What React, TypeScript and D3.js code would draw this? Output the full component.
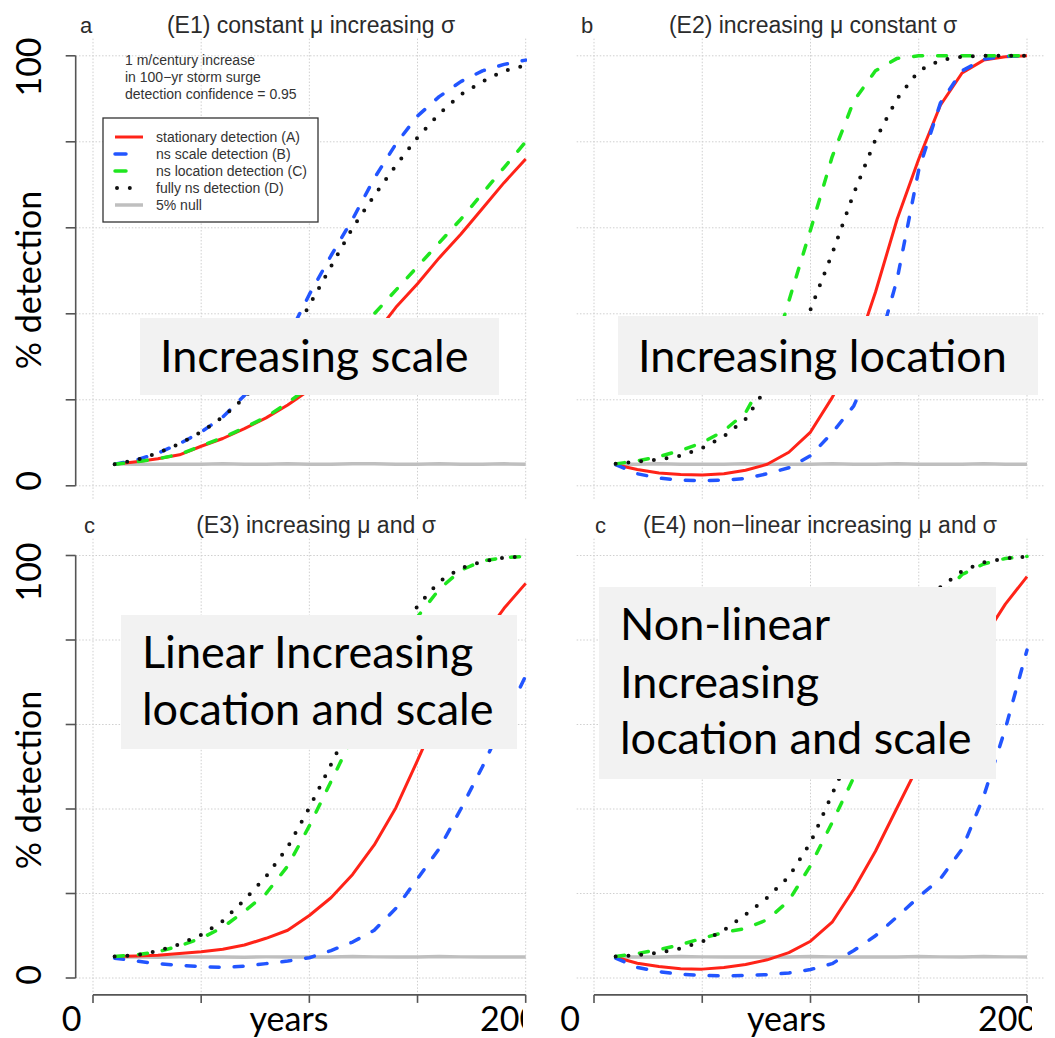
import React from "react";
import * as d3 from "d3";

// ---------------- data ----------------
const YEARS = [10, 20, 30, 40, 50, 60, 70, 80, 90, 100, 110, 120, 130, 140, 150, 160, 170, 180, 190, 200];

const E1_A = [5.0, 5.6, 6.3, 7.2, 9.2, 11.0, 13.3, 15.8, 18.8, 22.3, 26.3, 30.5, 35.0, 41.5, 47.0, 53.0, 58.5, 64.5, 70.5, 76.0];
const E1_B = [5.0, 6.0, 7.6, 9.8, 12.5, 16.0, 21.0, 27.0, 34.5, 44.5, 53.5, 62.0, 71.5, 79.5, 86.0, 90.5, 94.0, 96.5, 98.0, 99.0];
const E1_C = [5.0, 5.6, 6.3, 7.3, 9.3, 11.2, 13.5, 16.0, 19.3, 23.0, 27.5, 33.0, 40.0, 45.5, 51.0, 56.5, 62.0, 68.0, 74.0, 80.0];
const E1_D = [5.0, 6.0, 7.6, 9.8, 12.5, 16.0, 20.5, 26.0, 33.0, 42.0, 51.0, 60.0, 67.5, 74.5, 81.0, 86.5, 91.0, 94.0, 96.5, 97.8];
const E1_NULL = [5.1, 5.0, 5.0, 5.0, 5.0, 5.1, 5.0, 5.0, 5.1, 5.0, 5.0, 5.1, 5.1, 5.0, 5.0, 5.1, 5.0, 5.0, 5.1, 5.0];

const E2_A = [4.9, 3.8, 3.0, 2.6, 2.5, 2.8, 3.6, 5.0, 7.8, 12.5, 20.5, 30.0, 45.0, 62.0, 76.0, 88.5, 96.0, 99.0, 99.8, 100];
const E2_B = [4.9, 2.8, 1.8, 1.3, 1.2, 1.3, 1.7, 2.8, 4.2, 7.0, 12.3, 18.6, 30.0, 48.0, 73.5, 89.0, 96.5, 99.2, 99.9, 100];
const E2_C = [5.1, 5.8, 6.8, 8.2, 10.0, 12.8, 17.0, 26.0, 43.0, 59.5, 76.5, 89.5, 96.5, 99.4, 100, 100, 100, 100, 100, 100];
const E2_D = [5.1, 5.6, 6.1, 7.0, 8.8, 11.5, 15.5, 23.0, 30.5, 41.0, 54.0, 68.0, 80.5, 90.0, 96.5, 99.0, 99.8, 100, 100, 100];
const E2_NULL = [5.0, 5.0, 5.1, 5.0, 5.0, 5.0, 5.1, 5.0, 5.0, 5.0, 5.1, 5.0, 5.0, 5.1, 5.0, 5.0, 5.0, 5.1, 5.0, 5.0];

const E3_A = [5.1, 5.2, 5.4, 5.8, 6.2, 6.8, 7.8, 9.4, 11.3, 14.8, 19.0, 24.5, 31.5, 40.3, 51.5, 63.0, 72.5, 80.5, 87.5, 93.4];
const E3_B = [4.7, 4.0, 3.4, 3.0, 2.7, 2.5, 2.8, 3.4, 4.0, 4.8, 6.5, 8.5, 11.3, 16.5, 23.5, 30.6, 40.0, 50.0, 61.0, 71.5];
const E3_C = [5.1, 5.5, 6.2, 7.6, 9.4, 12.0, 15.8, 20.0, 26.5, 36.0, 46.5, 57.0, 67.5, 77.5, 85.5, 92.0, 96.5, 98.7, 99.5, 99.8];
const E3_D = [5.1, 5.4, 6.4, 8.0, 10.2, 13.5, 18.5, 24.0, 31.0, 40.3, 50.5, 61.0, 71.0, 80.0, 88.0, 93.8, 97.0, 98.6, 99.5, 99.8];
const E3_NULL = [5.0, 5.0, 4.9, 5.0, 5.0, 5.0, 4.9, 5.0, 5.0, 5.0, 5.0, 5.1, 5.0, 5.0, 5.0, 5.1, 5.0, 5.0, 5.0, 5.0];

const E4_A = [4.9, 3.5, 2.7, 2.2, 2.1, 2.5, 3.2, 4.3, 6.0, 8.7, 13.2, 21.0, 30.0, 40.3, 50.5, 61.0, 71.0, 80.5, 88.5, 95.0];
const E4_B = [4.7, 2.5, 1.5, 0.9, 0.6, 0.5, 0.6, 0.8, 1.2, 2.0, 3.4, 6.5, 10.0, 14.5, 19.2, 23.5, 30.5, 43.0, 59.0, 77.6];
const E4_C = [5.1, 5.8, 6.7, 7.9, 9.4, 10.8, 11.7, 13.8, 18.3, 26.6, 36.8, 47.5, 59.0, 70.5, 81.0, 90.0, 95.5, 98.0, 99.3, 99.8];
const E4_D = [5.1, 5.4, 6.0, 7.0, 8.6, 11.3, 15.0, 19.0, 24.0, 32.0, 43.5, 55.0, 66.5, 77.0, 86.0, 92.5, 96.3, 98.4, 99.3, 99.7];
const E4_NULL = [5.0, 5.0, 5.0, 5.1, 5.0, 5.0, 5.0, 5.0, 5.0, 5.1, 5.0, 5.0, 5.0, 5.0, 5.1, 5.0, 5.0, 5.1, 5.0, 5.0];

const SERIES_LABELS = [
  "stationary detection (A)",
  "ns scale detection (B)",
  "ns location detection (C)",
  "fully ns detection (D)",
  "5% null",
];
const LEGEND_NOTE = ["1  m/century increase", "in 100\u2212yr storm surge", "detection confidence = 0.95"];
const Y_TICKS = [0, 20, 40, 60, 80, 100];
const X_TICKS = [0, 50, 100, 150, 200];
const Y_TICK_LABELS = ["0", "100"];
const X_TICK_LABELS = ["0", "200"];
const Y_LABEL = "% detection";
const X_LABEL = "years";
const PANEL_LETTERS = ["a", "b", "c", "c"];
const PANEL_TITLES = [
  "(E1) constant \u03bc increasing \u03c3",
  "(E2) increasing \u03bc constant \u03c3",
  "(E3) increasing \u03bc and \u03c3",
  "(E4) non\u2212linear increasing \u03bc and \u03c3",
];
const OVERLAY_TEXT = [
  ["Increasing scale"],
  ["Increasing location"],
  ["Linear Increasing", "location and scale"],
  ["Non-linear", "Increasing", "location and scale"],
];

const PANEL_DATA = [
  [E1_NULL, E1_A, E1_B, E1_C, E1_D],
  [E2_NULL, E2_A, E2_B, E2_C, E2_D],
  [E3_NULL, E3_A, E3_B, E3_C, E3_D],
  [E4_NULL, E4_A, E4_B, E4_C, E4_D],
];

// ---------------- styles ----------------
const NULL_STYLE = { stroke: "#bfbfbf", width: 3.5, dash: undefined as string | undefined, cap: "butt" };
const SERIES_STYLES = [
  { stroke: "#ff2318", width: 3, dash: undefined as string | undefined, cap: "butt" },
  { stroke: "#2255ff", width: 3.5, dash: "9 15", cap: "round" },
  { stroke: "#1fe61f", width: 3.5, dash: "9 15", cap: "round" },
  { stroke: "#111111", width: 4, dash: "0 12.8", cap: "round" },
];
const DRAW_STYLES = [NULL_STYLE, ...SERIES_STYLES];
const LEGEND_STYLES = [SERIES_STYLES[0], SERIES_STYLES[1], SERIES_STYLES[2], SERIES_STYLES[3], NULL_STYLE];

const BIG_FONT = "Lato, 'Open Sans', sans-serif";
const R_FONT = "'Liberation Sans', Arial, sans-serif";

const LAYOUT = [
  { x0: 93, x1: 525.7, y100: 55.8, y0: 485.8, cx: [0, 527], cy: [0, 500], yAxis: true, xAxis: false,
    letterX: 80, titleX: 311, titleY: 33, box: [140, 318, 359, 77], textX: 160, base: [372],
    ylab: [40.6, 67, 280, 481] },
  { x0: 594, x1: 1027, y100: 55.8, y0: 485.8, cx: [527, 1055], cy: [0, 500], yAxis: false, xAxis: false,
    letterX: 581, titleX: 813, titleY: 33, box: [618, 316, 420, 79], textX: 638, base: [372] },
  { x0: 93, x1: 525.7, y100: 555.5, y0: 978, cx: [0, 527], cy: [500, 1038], yAxis: true, xAxis: true,
    letterX: 84, titleX: 316, titleY: 533, box: [121, 615, 396, 134], textX: 142, base: [668, 725],
    ylab: [41, 572, 780, 975], xlab: [71.5, 289, 480], xclip: 523 },
  { x0: 594, x1: 1027, y100: 555.5, y0: 978, cx: [527, 1055], cy: [500, 1038], yAxis: false, xAxis: true,
    letterX: 595, titleX: 820, titleY: 533, box: [599, 587, 397, 192], textX: 620, base: [640, 698, 754],
    xlab: [570, 786.5, 978], xclip: 1032 },
];

function Panel({ idx }: { idx: number }) {
  const L: any = LAYOUT[idx];
  const x = d3.scaleLinear().domain([0, 200]).range([L.x0, L.x1]);
  const y = d3.scaleLinear().domain([0, 100]).range([L.y0, L.y100]);
  const left = x(-8), right = x(208), top = y(104), bottom = y(-4);
  const line = d3
    .line<number>()
    .x((_, i) => x(YEARS[i]))
    .y((d) => y(d))
    .curve(d3.curveLinear);
  const clipId = `clip${idx}`;
  const [bx, by, bw, bh] = L.box;
  return (
    <g>
      <defs>
        <clipPath id={clipId}>
          <rect x={L.cx[0]} y={L.cy[0]} width={L.cx[1] - L.cx[0]} height={L.cy[1] - L.cy[0]} />
        </clipPath>
      </defs>
      <g clipPath={`url(#${clipId})`}>
        {X_TICKS.map((t) => (
          <line key={`gx${t}`} x1={x(t)} x2={x(t)} y1={top} y2={bottom} stroke="#cfcfcf" strokeWidth={1} strokeDasharray="1.5 1.8" />
        ))}
        {Y_TICKS.map((t) => (
          <line key={`gy${t}`} x1={left} x2={right} y1={y(t)} y2={y(t)} stroke="#cfcfcf" strokeWidth={1} strokeDasharray="1.5 1.8" />
        ))}
        {L.yAxis && (
          <g stroke="#555" strokeWidth={1.6}>
            <line x1={left} x2={left} y1={y(0)} y2={y(100)} />
            {Y_TICKS.map((t) => (
              <line key={`yt${t}`} x1={left - 10} x2={left} y1={y(t)} y2={y(t)} />
            ))}
          </g>
        )}
        {L.xAxis && (
          <g stroke="#555" strokeWidth={1.6}>
            <line x1={x(0)} x2={x(200)} y1={bottom} y2={bottom} />
            {X_TICKS.map((t) => (
              <line key={`xt${t}`} x1={x(t)} x2={x(t)} y1={bottom} y2={bottom + 8} />
            ))}
          </g>
        )}
        {PANEL_DATA[idx].map((vals, si) => {
          const st = DRAW_STYLES[si];
          return (
            <path
              key={`s${si}`}
              d={line(vals) || ""}
              fill="none"
              stroke={st.stroke}
              strokeWidth={st.width}
              strokeDasharray={st.dash}
              strokeLinecap={st.cap as any}
              strokeLinejoin="round"
            />
          );
        })}
        <text x={L.letterX} y={L.titleY} fontFamily={R_FONT} fontSize={22} fill="#2b2b2b">
          {PANEL_LETTERS[idx]}
        </text>
        <text x={L.titleX} y={L.titleY} fontFamily={R_FONT} fontSize={23} fill="#2b2b2b" textAnchor="middle">
          {PANEL_TITLES[idx]}
        </text>
        {idx === 0 && (
          <g fontFamily={R_FONT} fontSize={14} fill="#333">
            {LEGEND_NOTE.map((t, i) => (
              <text key={`n${i}`} x={125} y={65 + i * 17}>{t}</text>
            ))}
            <rect x={103} y={118} width={215} height={104} fill="#fff" stroke="#333" strokeWidth={1.3} />
            {SERIES_LABELS.map((lab, i) => {
              const st = LEGEND_STYLES[i];
              const yy = 137 + i * 17;
              const isDash = st.dash && st.dash.startsWith("9");
              const isDot = st.dash && st.dash.startsWith("0");
              return (
                <g key={`l${i}`}>
                  <line
                    x1={isDot ? 117 : 115}
                    x2={isDash ? 126 : isDot ? 131 : 143}
                    y1={yy}
                    y2={yy}
                    stroke={st.stroke}
                    strokeWidth={st.width}
                    strokeDasharray={isDash ? undefined : st.dash}
                    strokeLinecap={st.cap as any}
                  />
                  <text x={156} y={yy + 5}>{lab}</text>
                </g>
              );
            })}
          </g>
        )}
        <rect x={bx} y={by} width={bw} height={bh} fill="#f2f2f2" />
        {OVERLAY_TEXT[idx].map((t, i) => (
          <text key={`o${i}`} x={L.textX} y={L.base[i]} fontFamily={BIG_FONT} fontSize={45} fill="#000">
            {t}
          </text>
        ))}
      </g>
      {L.ylab && (
        <g fontFamily={BIG_FONT} fontSize={34} fill="#000" textAnchor="middle">
          <text transform={`translate(${L.ylab[0]},${L.ylab[1]}) rotate(-90)`}>{Y_TICK_LABELS[1]}</text>
          <text transform={`translate(${L.ylab[0]},${L.ylab[2]}) rotate(-90)`}>{Y_LABEL}</text>
          <text transform={`translate(${L.ylab[0]},${L.ylab[3]}) rotate(-90)`}>{Y_TICK_LABELS[0]}</text>
        </g>
      )}
      {L.xlab && (
        <g fontFamily={BIG_FONT} fontSize={34} fill="#000">
          <defs>
            <clipPath id={`xl${idx}`}>
              <rect x={L.cx[0] - 100} y={990} width={L.xclip - (L.cx[0] - 100)} height={60} />
            </clipPath>
          </defs>
          <text x={L.xlab[0]} y={1031} textAnchor="middle">{X_TICK_LABELS[0]}</text>
          <text x={L.xlab[1]} y={1031} textAnchor="middle">{X_LABEL}</text>
          <text x={L.xlab[2]} y={1031} clipPath={`url(#xl${idx})`}>{X_TICK_LABELS[1]}</text>
        </g>
      )}
    </g>
  );
}

export default function App() {
  return (
    <div>
      <style>{`body{margin:0;background:#fff}`}</style>
      <svg width={1055} height={1038} viewBox="0 0 1055 1038" style={{ display: "block", background: "#fff" }}>
        <rect x={0} y={0} width={1055} height={1038} fill="#fff" />
        {[0, 1, 2, 3].map((i) => (
          <Panel key={i} idx={i} />
        ))}
      </svg>
    </div>
  );
}
